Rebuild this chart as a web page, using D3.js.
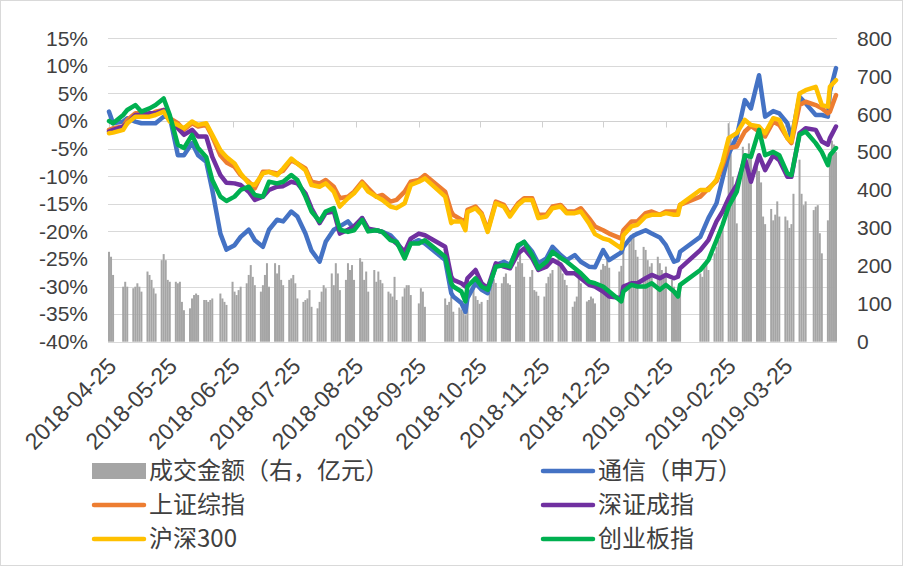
<!DOCTYPE html>
<html>
<head>
<meta charset="utf-8">
<script src="https://cdn.jsdelivr.net/npm/d3@7"></script>
<style>
  body { margin: 0; background: #fff; }
  text { fill: #404040; }
</style>
</head>
<body>
<svg id="chart" width="903" height="566"></svg>
<script>
// trading calendar (weekdays minus exchange holidays)
const firstDay = '2018-04-25';
const lastDay = '2019-04-19';
const holidays = [
  '2018-04-30', '2018-05-01', '2018-06-18', '2018-09-24',
  '2018-10-01', '2018-10-02', '2018-10-03', '2018-10-04', '2018-10-05',
  '2018-12-31', '2019-01-01',
  '2019-02-04', '2019-02-05', '2019-02-06', '2019-02-07', '2019-02-08',
  '2019-04-05',
];

// 成交金额 (亿元), one inner array per trading week
const volumeByWeek = [
  [237, 224, 176], [145, 158, 145], [141, 145, 154, 145, 132],
  [185, 176, 163, 141, 127], [215, 231, 215, 163, 158], [158, 154, 158, 105, 83],
  [88, 114, 123, 127, 123], [110, 110, 105, 110, 114], [127, 114, 105, 97],
  [158, 132, 123, 136, 145], [154, 176, 202, 171, 149], [132, 149, 176, 207, 145],
  [207, 180, 202, 163, 149], [163, 167, 176, 154, 114], [105, 110, 114, 136, 92],
  [88, 105, 132, 149, 141], [180, 149, 207, 180, 136], [163, 207, 189, 202, 163],
  [220, 211, 163, 185, 132], [189, 158, 185, 163, 154], [132, 127, 119, 171, 110],
  [119, 141, 149, 149, 123], [101, 141, 132, 92],
  [114, 97, 105, 119, 79], [90, 85, 80, 70, 110], [150, 120, 110, 100, 105],
  [110, 130, 150, 165, 155], [154, 171, 180, 154, 150], [198, 211, 233, 207, 171],
  [171, 189, 136, 132, 121], [119, 154, 171, 180, 189], [233, 198, 180, 163, 149],
  [92, 106, 119, 171, 154], [106, 110, 119, 114, 101], [190, 205, 200, 215, 195],
  [185, 200, 250], [259, 277, 286, 242, 224], [250, 242, 215, 198, 207],
  [224, 207, 189, 180, 198], [163, 145, 132, 136, 154],
  [180, 171, 198, 215, 189], [233, 250, 268, 303, 307], [576, 541, 435, 409, 312],
  [514, 497, 479, 523, 488], [470, 450, 420, 330, 310], [350, 320, 335, 370, 330],
  [330, 320, 300, 310, 390], [480, 390, 360, 370], [347, 356, 360, 286, 233],
  [320, 500, 530, 520, 500],
];

// sampled dates for the index lines (% change)
const lineDates = [
  '2018-04-25', '2018-04-27', '2018-05-02', '2018-05-04', '2018-05-08', '2018-05-11',
  '2018-05-15', '2018-05-18', '2018-05-22', '2018-05-25', '2018-05-29', '2018-06-01',
  '2018-06-05', '2018-06-08', '2018-06-12', '2018-06-15', '2018-06-19', '2018-06-22',
  '2018-06-26', '2018-06-29', '2018-07-03', '2018-07-06', '2018-07-10', '2018-07-13',
  '2018-07-17', '2018-07-20', '2018-07-24', '2018-07-27', '2018-07-31', '2018-08-03',
  '2018-08-07', '2018-08-10', '2018-08-14', '2018-08-17', '2018-08-21', '2018-08-24',
  '2018-08-28', '2018-08-31', '2018-09-04', '2018-09-07', '2018-09-11', '2018-09-14',
  '2018-09-18', '2018-09-21', '2018-09-25', '2018-09-28', '2018-10-08', '2018-10-11',
  '2018-10-12', '2018-10-16', '2018-10-18', '2018-10-19', '2018-10-23', '2018-10-26',
  '2018-10-29', '2018-11-02', '2018-11-06', '2018-11-09', '2018-11-13', '2018-11-16',
  '2018-11-20', '2018-11-23', '2018-11-27', '2018-11-30', '2018-12-04', '2018-12-07',
  '2018-12-11', '2018-12-14', '2018-12-18', '2018-12-21', '2018-12-25', '2018-12-28',
  '2019-01-03', '2019-01-04', '2019-01-08', '2019-01-11', '2019-01-15', '2019-01-18',
  '2019-01-22', '2019-01-25', '2019-01-29', '2019-01-31', '2019-02-01', '2019-02-11',
  '2019-02-15', '2019-02-19', '2019-02-22', '2019-02-25', '2019-03-01', '2019-03-05',
  '2019-03-08', '2019-03-12', '2019-03-15', '2019-03-19', '2019-03-22', '2019-03-26',
  '2019-03-28', '2019-04-01', '2019-04-04', '2019-04-09', '2019-04-12', '2019-04-15',
  '2019-04-16', '2019-04-19',
];

// 通信（申万）
const telecom = [
  1.7, -0.4, -0.1, 0.5, -0.1, -0.4, -0.4, -0.4, 0.8, 0.8, -6.2, -6.2,
  -4.0, -6.2, -7.4, -12.5, -20.4, -23.3, -22.5, -21.0, -19.7, -21.6, -22.8, -19.7,
  -17.9, -18.2, -16.4, -17.3, -20.4, -23.5, -25.5, -21.9, -19.7, -19.1, -18.2, -19.5,
  -17.6, -19.8, -19.8, -20.1, -20.7, -21.9, -24.0, -22.2, -21.6, -22.2, -25.2, -31.2,
  -31.8, -33.0, -34.6, -32.1, -29.4, -30.6, -31.2, -26.1, -25.5, -26.1, -22.8, -21.9,
  -23.7, -25.8, -24.9, -22.8, -24.3, -25.2, -24.3, -25.5, -26.4, -26.5, -23.4, -25.2,
  -23.8, -22.8, -21.0, -20.4, -19.8, -20.4, -21.1, -22.5, -25.5, -25.2, -23.7, -21.0,
  -17.6, -14.9, -10.4, -6.0, -2.8, 3.8, 2.3, 8.3, 0.8, 1.8, 1.4, -0.4,
  -3.1, 4.4, 3.2, 1.1, 1.1, 0.8, 5.3, 9.6,
];
// 上证综指
const shanghai = [
  -1.6, -1.3, -1.0, 0.2, 1.4, 1.4, 1.1, 1.7, 2.0, 0.5, -0.4, -1.6,
  -0.4, -1.0, -0.7, -2.8, -6.2, -7.5, -8.3, -9.8, -11.0, -12.2, -9.2, -9.2,
  -9.5, -9.0, -7.1, -7.7, -8.6, -11.0, -11.3, -10.7, -11.9, -14.0, -13.7, -12.8,
  -11.0, -12.2, -13.7, -13.4, -14.6, -14.3, -12.8, -11.0, -10.7, -9.8, -12.8, -16.4,
  -17.0, -17.9, -18.2, -16.1, -15.5, -16.7, -19.8, -14.6, -15.2, -17.0, -14.9, -14.0,
  -14.0, -17.0, -17.0, -15.5, -15.2, -16.4, -16.4, -15.8, -17.6, -19.1, -19.8, -20.4,
  -21.3, -19.8, -18.2, -18.2, -16.7, -16.4, -17.0, -16.4, -16.4, -16.4, -15.2, -13.7,
  -12.2, -10.9, -8.0, -4.9, -4.6, -1.9, -0.9, -1.9, -2.8, -0.1, -0.7, -3.1,
  -4.0, 2.9, 3.5, 2.9, 2.3, 1.4, 1.7, 4.7,
];
// 深证成指
const shenzhen = [
  -1.9, -1.6, -1.0, -0.4, 1.1, 1.1, 1.4, 1.4, 2.0, 0.2, -1.3, -2.5,
  -1.6, -2.8, -2.8, -6.5, -9.8, -11.2, -11.3, -11.6, -12.8, -14.3, -13.7, -12.5,
  -11.9, -11.8, -11.0, -11.3, -13.1, -15.8, -18.5, -16.7, -16.4, -20.4, -19.7, -19.1,
  -17.6, -19.5, -19.8, -20.1, -21.3, -22.2, -23.7, -21.3, -20.4, -20.7, -22.8, -28.2,
  -28.8, -29.4, -30.0, -28.5, -27.0, -29.4, -30.3, -25.8, -26.4, -26.7, -24.0, -23.1,
  -24.9, -27.0, -26.4, -25.2, -26.0, -27.6, -27.6, -28.5, -29.7, -30.0, -30.9, -31.8,
  -32.1, -30.0, -29.4, -29.4, -28.5, -27.9, -28.5, -27.9, -28.5, -28.2, -26.7, -23.4,
  -21.6, -18.2, -16.4, -14.0, -11.6, -6.8, -11.0, -6.2, -8.9, -6.2, -7.1, -10.1,
  -10.1, -2.2, -1.3, -1.6, -3.7, -4.3, -3.1, -1.0,
];
// 沪深300
const hs300 = [
  -2.2, -2.1, -1.6, -0.4, 0.8, 0.8, 0.8, 1.1, 1.7, -0.1, -0.7, -1.3,
  -0.1, -0.7, -0.4, -2.5, -5.3, -6.5, -7.7, -9.5, -11.3, -11.6, -9.5, -9.2,
  -9.8, -8.6, -6.8, -7.7, -8.9, -11.6, -11.9, -11.3, -12.8, -15.5, -14.0, -13.1,
  -11.3, -12.8, -13.7, -14.3, -15.5, -15.8, -14.9, -11.6, -11.0, -10.4, -13.7, -18.5,
  -18.2, -18.2, -19.8, -16.5, -15.8, -17.0, -20.1, -14.9, -15.5, -17.3, -15.2, -14.3,
  -14.3, -17.6, -17.3, -15.8, -15.5, -16.7, -16.7, -16.4, -18.5, -20.5, -21.3, -21.6,
  -23.1, -20.7, -19.1, -18.8, -17.3, -17.0, -17.0, -16.7, -17.0, -17.0, -15.2, -12.5,
  -12.5, -10.6, -7.4, -3.1, -2.2, 0.2, -0.7, -1.0, -2.2, 0.5, 0.2, -3.1,
  -3.7, 5.0, 5.6, 6.2, 2.9, 2.6, 6.2, 7.4,
];
// 创业板指
const chinext = [
  0.0, -0.4, 1.1, 2.0, 2.9, 1.7, 2.3, 2.9, 4.1, 1.1, -4.3, -4.9,
  -2.5, -4.9, -6.5, -10.7, -13.7, -14.5, -13.7, -12.5, -11.9, -13.4, -13.7, -11.0,
  -11.3, -11.0, -9.8, -10.7, -13.7, -16.4, -18.2, -16.4, -15.8, -19.7, -20.1, -19.8,
  -17.9, -20.0, -19.8, -20.1, -21.6, -21.9, -24.9, -22.2, -22.2, -21.6, -24.6, -29.4,
  -30.0, -30.9, -32.7, -30.0, -28.5, -30.0, -30.6, -26.4, -26.1, -26.4, -22.5, -21.9,
  -24.3, -26.7, -25.5, -23.7, -24.8, -25.5, -26.7, -27.6, -29.1, -29.4, -30.0, -30.9,
  -32.7, -30.9, -29.7, -30.0, -30.0, -29.4, -30.6, -29.7, -30.9, -31.8, -29.7, -27.0,
  -25.2, -21.6, -18.8, -15.5, -12.8, -6.2, -6.5, -1.6, -6.2, -5.6, -6.2, -9.5,
  -9.8, -2.5, -1.9, -4.0, -5.6, -8.0, -6.2, -4.9,
];

const tickDates = [
  '2018-04-25', '2018-05-25', '2018-06-25', '2018-07-25', '2018-08-25', '2018-09-25',
  '2018-10-25', '2018-11-25', '2018-12-25', '2019-01-25', '2019-02-25', '2019-03-25',
];
const leftTicks = [15, 10, 5, 0, -5, -10, -15, -20, -25, -30, -35, -40];
const rightTicks = [800, 700, 600, 500, 400, 300, 200, 100, 0];

const series = [
  { name: '通信（申万）', values: telecom, color: '#4472C4' },
  { name: '上证综指', values: shanghai, color: '#ED7D31' },
  { name: '深证成指', values: shenzhen, color: '#7030A0' },
  { name: '沪深300', values: hs300, color: '#FFC000' },
  { name: '创业板指', values: chinext, color: '#00B050' },
];

const parse = d3.utcParse('%Y-%m-%d');
const numFont = '"Liberation Sans Narrow", "Arial Narrow", Arial, sans-serif';
const cjkFont = '"Noto Sans CJK SC", sans-serif';

// build the trading days the bars sit on
const holidaySet = new Set(holidays);
const tradingDays = d3.utcDay
  .range(parse(firstDay), d3.utcDay.offset(parse(lastDay), 1))
  .filter((d) => d.getUTCDay() > 0 && d.getUTCDay() < 6)
  .filter((d) => !holidaySet.has(d3.utcFormat('%Y-%m-%d')(d)));
const volumes = volumeByWeek.flat();
const bars = tradingDays.map((d, i) => ({ date: d, value: volumes[i] }));

const plot = { left: 108, right: 837, top: 38.3, bottom: 341.7 };

const x = d3
  .scaleUtc()
  .domain([d3.utcHour.offset(parse(firstDay), -12), d3.utcHour.offset(parse(lastDay), 12)])
  .range([plot.left, plot.right]);
const yLeft = d3.scaleLinear().domain([-40, 15]).range([plot.bottom, plot.top]);
const yRight = d3.scaleLinear().domain([0, 800]).range([plot.bottom, plot.top]);

const svg = d3.select('#chart');

// chart border
svg
  .append('rect')
  .attr('x', 0.5)
  .attr('y', 0.5)
  .attr('width', 902)
  .attr('height', 565)
  .attr('fill', '#fff')
  .attr('stroke', '#d9d9d9');

// horizontal gridlines
svg
  .append('g')
  .selectAll('line')
  .data(leftTicks)
  .enter()
  .append('line')
  .attr('x1', plot.left)
  .attr('x2', plot.right)
  .attr('y1', (d) => Math.round(yLeft(d)) + 0.5)
  .attr('y2', (d) => Math.round(yLeft(d)) + 0.5)
  .attr('stroke', '#d9d9d9')
  .attr('stroke-width', 1);

// volume bars on the right axis
svg
  .append('g')
  .selectAll('rect')
  .data(bars.filter((d) => d.value != null))
  .enter()
  .append('rect')
  .attr('x', (d) => x(d.date) - 1)
  .attr('width', 2)
  .attr('y', (d) => yRight(d.value))
  .attr('height', (d) => yRight(0) - yRight(d.value))
  .attr('fill', '#A5A5A5');

// date axis sits on the 0% line, tick marks hanging below
const y0 = Math.round(yLeft(0)) + 0.5;
svg
  .append('line')
  .attr('x1', plot.left)
  .attr('x2', plot.right)
  .attr('y1', y0)
  .attr('y2', y0)
  .attr('stroke', '#d0d0d0');
svg
  .append('g')
  .selectAll('line')
  .data(tickDates)
  .enter()
  .append('line')
  .attr('x1', (d) => Math.round(x(parse(d))) + 0.5)
  .attr('x2', (d) => Math.round(x(parse(d))) + 0.5)
  .attr('y1', y0)
  .attr('y2', y0 + 6)
  .attr('stroke', '#d0d0d0');

// index lines
const line = d3
  .line()
  .x((d) => x(d.date))
  .y((d) => yLeft(d.value));
series.forEach((s) => {
  const pts = lineDates.map((d, i) => ({ date: parse(d), value: s.values[i] }));
  svg
    .append('path')
    .datum(pts)
    .attr('d', line)
    .attr('fill', 'none')
    .attr('stroke', s.color)
    .attr('stroke-width', 4.5)
    .attr('stroke-linejoin', 'round')
    .attr('stroke-linecap', 'round');
});

// left axis labels
svg
  .append('g')
  .selectAll('text')
  .data(leftTicks)
  .enter()
  .append('text')
  .attr('x', 88)
  .attr('y', (d) => yLeft(d))
  .attr('dy', '0.35em')
  .attr('text-anchor', 'end')
  .style('font-family', numFont)
  .style('font-size', '21px')
  .text((d) => d + '%');

// right axis labels
svg
  .append('g')
  .selectAll('text')
  .data(rightTicks)
  .enter()
  .append('text')
  .attr('x', 857)
  .attr('y', (d) => yRight(d))
  .attr('dy', '0.35em')
  .attr('text-anchor', 'start')
  .style('font-family', numFont)
  .style('font-size', '21px')
  .text((d) => d);

// rotated date labels under the plot
svg
  .append('g')
  .selectAll('text')
  .data(tickDates)
  .enter()
  .append('text')
  .attr('transform', (d) => `translate(${x(parse(d)) + 3}, 362) rotate(-45)`)
  .attr('dy', '0.35em')
  .attr('text-anchor', 'end')
  .style('font-family', numFont)
  .style('font-size', '23px')
  .text((d) => d);

// legend, two columns
const legendItems = [
  { name: '成交金额（右，亿元）', type: 'bar', color: '#A5A5A5' },
  ...series.map((s) => ({ name: s.name, type: 'line', color: s.color })),
];
const legend = svg
  .append('g')
  .selectAll('g')
  .data(legendItems)
  .enter()
  .append('g')
  .attr('transform', (d, i) => `translate(${i % 2 ? 541 : 92}, ${471 + Math.floor(i / 2) * 34})`);
legend.each(function (d) {
  const g = d3.select(this);
  if (d.type === 'bar') {
    g.append('rect').attr('x', 0).attr('y', -8).attr('width', 54).attr('height', 16).attr('fill', d.color);
  } else {
    g.append('line')
      .attr('x1', 2)
      .attr('x2', 52)
      .attr('stroke', d.color)
      .attr('stroke-width', 4.5)
      .attr('stroke-linecap', 'round');
  }
  g.append('text')
    .attr('x', 57)
    .attr('dy', '0.35em')
    .style('font-family', cjkFont)
    .style('font-size', '24px')
    .text(d.name);
});

if (volumes.length !== tradingDays.length) {
  console.error('volume count', volumes.length, 'trading days', tradingDays.length);
}
</script>
</body>
</html>
